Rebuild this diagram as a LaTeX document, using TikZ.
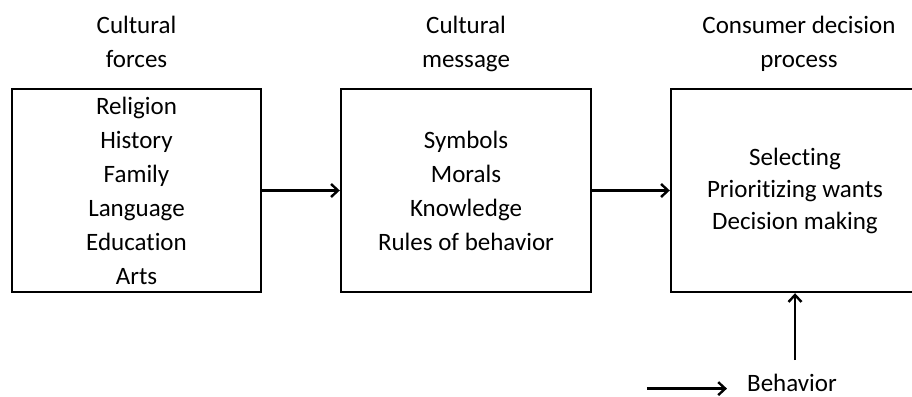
\documentclass[tikz,border=0pt]{standalone}
\usepackage{fontspec}
\setmainfont[Ligatures={NoCommon}]{Carlito}
\usetikzlibrary{arrows.meta}
\begin{document}
\begin{tikzpicture}[x=1pt,y=-1pt,
  txt/.style={font=\fontsize{25}{34}\selectfont, align=center, inner sep=0pt},
  box/.style={draw, line width=2.4pt, minimum height=203pt, inner sep=0pt,
              font=\fontsize{25}{34}\selectfont, align=center},
  arr/.style={line width=2.4pt, -{Straight Barb[length=7pt,width=13pt,line width=2.4pt]}}
]
\useasboundingbox (0,0) rectangle (912,396);
\begin{scope}
\clip (0,0) rectangle (912,396);
% titles
\node[txt, anchor=north] (t1) at (136.5,16) {Cultural\\forces};
\node[txt, anchor=north] (t2) at (466,16) {Cultural\\message};
\node[txt, anchor=north] (t3) at (799,16) {Consumer decision\\process};
% boxes
\node[box, minimum width=249pt] (b1) at (136.5,190.5)
  {Religion\\History\\Family\\Language\\Education\\Arts};
\node[box, minimum width=250pt] (b2) at (466,190.5)
  {Symbols\\Morals\\Knowledge\\Rules of behavior};
\node[box, minimum width=248pt, font=\fontsize{25}{32}\selectfont] (b3) at (795,190.5)
  {Selecting\\Prioritizing wants\\Decision making};
% behavior
\node[txt, anchor=base] (beh) at (792,391) {Behavior};
\coordinate (bstart) at ([xshift=-100pt]beh.mid west);
\coordinate (vstart) at (795,360);
% connectors
\draw[arr] (b1.east) -- (b2.west);
\draw[arr] (b2.east) -- (b3.west);
\draw[arr] (vstart) -- (b3.south);
\draw[arr, shorten >=20pt] (bstart) -- (beh.mid west);
\end{scope}
\end{tikzpicture}
\end{document}
